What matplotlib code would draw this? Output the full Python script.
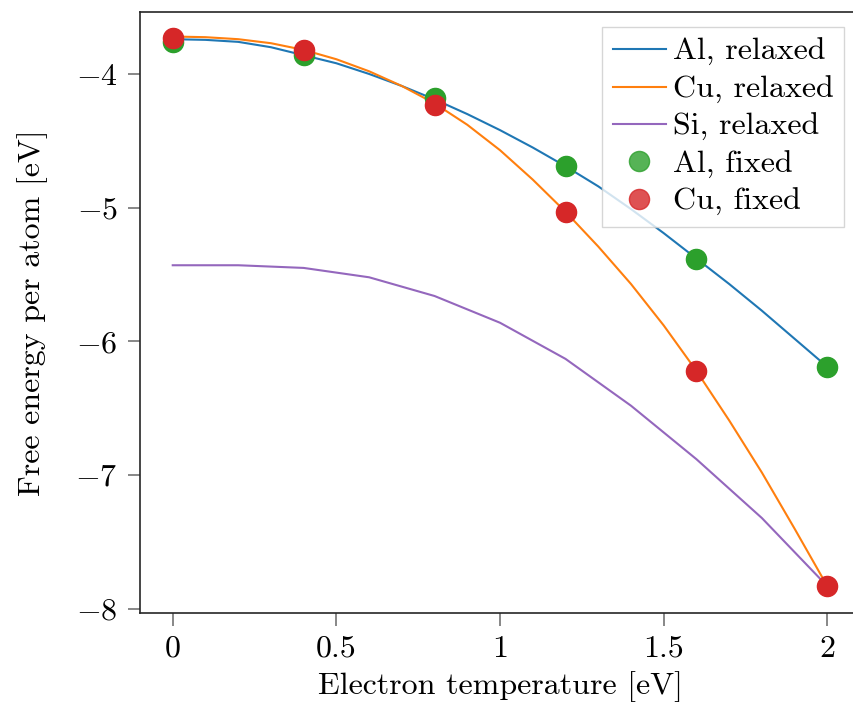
import matplotlib
matplotlib.use("Agg")
import matplotlib.pyplot as plt
from matplotlib.lines import Line2D

plt.rcParams.update({
    "font.family": "serif",
    "font.serif": ["cmr10"],
    "mathtext.fontset": "cm",
    "axes.formatter.use_mathtext": True,
    "font.size": 23,
})

# Electron temperature grids [eV]
t_fine = [0.0, 0.1, 0.2, 0.3, 0.4, 0.5, 0.6, 0.7, 0.8, 0.9, 1.0,
          1.1, 1.2, 1.3, 1.4, 1.5, 1.6, 1.7, 1.8, 1.9, 2.0]
t_si = [0.0, 0.2, 0.4, 0.6, 0.8, 1.0, 1.2, 1.4, 1.6, 1.8, 2.0]
t_fixed = [0.0, 0.4, 0.8, 1.2, 1.6, 2.0]

# Free energy per atom [eV], relaxed structures
al_relaxed = [-3.74, -3.745, -3.76, -3.80, -3.86, -3.92, -4.00, -4.09, -4.19, -4.30, -4.42,
              -4.55, -4.69, -4.84, -5.01, -5.19, -5.38, -5.57, -5.77, -5.98, -6.19]
cu_relaxed = [-3.72, -3.725, -3.74, -3.77, -3.82, -3.89, -3.98, -4.09, -4.22, -4.38, -4.57,
              -4.79, -5.03, -5.29, -5.57, -5.88, -6.22, -6.59, -6.98, -7.40, -7.83]
si_relaxed = [-5.43, -5.43, -5.45, -5.52, -5.66, -5.86, -6.13, -6.48, -6.88, -7.32, -7.83]

# Free energy per atom [eV], fixed structures
al_fixed = [-3.76, -3.86, -4.18, -4.69, -5.38, -6.19]
cu_fixed = [-3.73, -3.82, -4.23, -5.03, -6.22, -7.83]

fig = plt.figure(figsize=(8.54, 7.06), dpi=100)
ax = fig.add_axes([140 / 854, 1 - 613.3 / 706, (860.1 - 140) / 854, (613.3 - 11.5) / 706])

lw = 1.5
ms = 14.5
ax.plot(t_fine, al_relaxed, color="tab:blue", lw=lw, zorder=2)
ax.plot(t_fine, cu_relaxed, color="tab:orange", lw=lw, zorder=2)
ax.plot(t_si, si_relaxed, color="tab:purple", lw=lw, zorder=2)
ax.plot(t_fixed, al_fixed, "o", color="tab:green", ms=ms, zorder=3)
ax.plot(t_fixed, cu_fixed, "o", color="tab:red", ms=ms, zorder=3)

ax.set_xlim(-0.1, 2.1)
ax.set_ylim(-8.032, -3.533)
ax.set_xticks([0, 0.5, 1, 1.5, 2])
ax.set_xticklabels(["0", "0.5", "1", "1.5", "2"])
ax.set_yticks([-4, -5, -6, -7, -8])

for side in ("left", "bottom", "top"):
    ax.spines[side].set_color("0.15")
    ax.spines[side].set_linewidth(1.2)
ax.spines["right"].set_visible(False)
ax.tick_params(direction="out", length=9, width=1.2, color="0.45", pad=7)

ax.set_xlabel("Electron temperature [eV]", labelpad=6)
ax.set_ylabel("Free energy per atom [eV]", labelpad=20)

handles = [
    Line2D([], [], color="tab:blue", lw=lw),
    Line2D([], [], color="tab:orange", lw=lw),
    Line2D([], [], color="tab:purple", lw=lw),
    Line2D([], [], marker="o", ls="none", color="tab:green", ms=ms, alpha=0.8),
    Line2D([], [], marker="o", ls="none", color="tab:red", ms=ms, alpha=0.8),
]
labels = ["Al, relaxed", "Cu, relaxed", "Si, relaxed", "Al, fixed", "Cu, fixed"]
ax.legend(handles, labels, loc="upper right", fancybox=False, framealpha=0.8,
          edgecolor="0.8", handlelength=1.66, handletextpad=0.22,
          labelspacing=0.28, borderpad=0.33, borderaxespad=0.5)

fig.savefig("out.png", dpi=100)
